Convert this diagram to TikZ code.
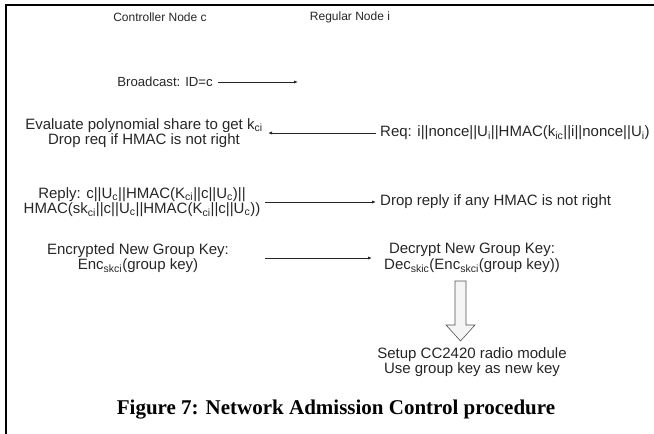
\documentclass[tikz,border=0pt]{standalone}
\usepackage{fontspec}
\setmainfont{Liberation Sans}
\newfontfamily\capfont{Liberation Serif}
\usetikzlibrary{arrows.meta}
\definecolor{ink}{HTML}{262626}
\begin{document}
\begin{tikzpicture}[x=1pt,y=-1pt,
  lbl/.style={font=\fontsize{15}{15.5}\selectfont, text=ink, inner sep=0pt, align=center},
  head/.style={font=\fontsize{12}{14}\selectfont, text=ink, inner sep=0pt},
  arr/.style={draw=ink, line width=0.9pt, -{Latex[length=4pt,width=3.2pt]}},
  blockarrow/.style={draw=ink!80, line width=0.6pt, fill=black!4}]
\useasboundingbox (0,0) rectangle (654,434);
% frame (top and left)
\draw[line width=2pt] (6,434) -- (6,5) -- (654,5);
% headings
\node[head] (ctl) at (160,17) {Controller Node c};
\node[head] (reg) at (350,17) {Regular Node i};
% broadcast
\node[lbl, font=\fontsize{13.2}{15}\selectfont, anchor=east] (bc) at (213,82) {Broadcast: ID=c};
\coordinate (bcend) at (298,82);
\draw[arr] ([xshift=5pt]bc.east) -- (bcend);
% request
\node[lbl] (eval) at (144,133) {Evaluate polynomial share to get k\textsubscript{ci}\\Drop req if HMAC is not right};
\node[lbl, anchor=west] (req) at (380,133) {Req: i||nonce||U\textsubscript{i}||HMAC(k\textsubscript{ic}||i||nonce||U\textsubscript{i})};
\coordinate (reqtip) at (268,133);
\draw[arr] ([xshift=-4pt]req.west) -- (reqtip);
% reply
\node[lbl] (reply) at (142,202) {Reply: c||U\textsubscript{c}||HMAC(K\textsubscript{ci}||c||U\textsubscript{c})||\\HMAC(sk\textsubscript{ci}||c||U\textsubscript{c}||HMAC(K\textsubscript{ci}||c||U\textsubscript{c}))};
\node[lbl, anchor=west] (drop) at (380,202) {Drop reply if any HMAC is not right};
\coordinate (replystart) at (265,202);
\draw[arr] (replystart) -- ([xshift=-4pt]drop.west);
% encrypted group key
\node[lbl] (enc) at (138,258) {Encrypted New Group Key:\\Enc\textsubscript{skci}(group key)};
\node[lbl] (dec) at (472,258) {Decrypt New Group Key:\\Dec\textsubscript{skic}(Enc\textsubscript{skci}(group key))};
\coordinate (encstart) at (265,258);
\draw[arr] (encstart) -- ([xshift=-12pt]dec.west);
% setup
\node[lbl] (setup) at (472,362) {Setup CC2420 radio module\\Use group key as new key};
% block arrow
\draw[blockarrow] (455,281) -- (466,281) -- (466,325) -- (475,325) -- (460.5,341) -- (446,325) -- (455,325) -- cycle;
% caption
\node[font=\capfont\bfseries\fontsize{21}{25}\selectfont, inner sep=0pt] (cap) at (336,410) {Figure 7: Network Admission Control procedure};
\end{tikzpicture}
\end{document}
